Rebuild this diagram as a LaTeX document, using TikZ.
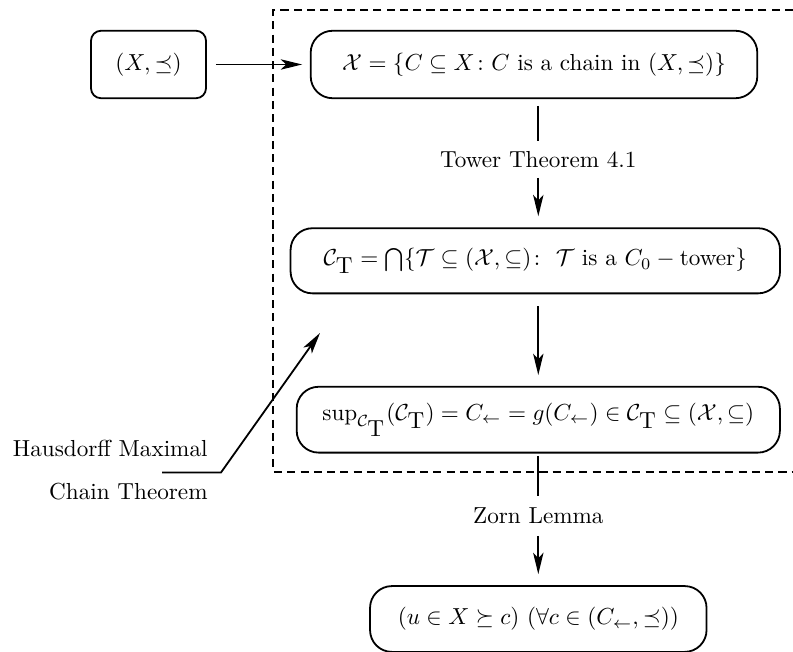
\documentclass[tikz,border=0pt]{standalone}
\usepackage{amsmath,amssymb}
\usetikzlibrary{arrows.meta}
\newcommand{\myCT}{\mathcal{C}_{\textstyle\mathrm{T}}}
\begin{document}
\begin{tikzpicture}[x=0.44444pt,y=-0.44444pt,
  line width=0.8pt,
  every node/.append style={scale=1.03},
  arr/.style={-{Stealth[length=9.5pt,width=4.6pt,inset=2.4pt]}},
  smallbox/.style={draw,rounded corners=4.4pt,inner sep=0pt,minimum width=49.6pt,minimum height=29.1pt},
  bigbox/.style={draw,rounded corners=9.7pt,inner sep=0pt,minimum height=28.4pt},
  elabel/.style={inner sep=0pt},
  dashbox/.style={dash pattern=on 3.6pt off 2.3pt}]
\useasboundingbox (0,0) rectangle (793,652);
\node[smallbox] (A) at (148.5,64.5) {$(X,\preceq)$};
\node[bigbox,minimum width=192.7pt,minimum height=29.1pt] (B) at (534,64.5)
  {$\mathcal{X}=\{C\subseteq X\colon C\text{ is a chain in }(X,\preceq)\}$};
\node[bigbox,minimum width=211.2pt,minimum height=28.1pt] (C) at (535.3,260.8)
  {$\myCT=\bigcap\{\mathcal{T}\subseteq(\mathcal{X},\subseteq)\colon\ \mathcal{T}\text{ is a }C_0-\text{tower}\}$};
\node[bigbox,minimum width=208.5pt,minimum height=28.4pt] (D) at (538.3,419.7)
  {$\sup_{\myCT}(\myCT)=C_{\leftarrow}=g(C_{\leftarrow})\in\myCT\subseteq(\mathcal{X},\subseteq)$};
\node[bigbox,minimum width=145.2pt,minimum height=28.4pt] (E) at (538.3,619)
  {$(u\in X\succeq c)\ (\forall c\in(C_{\leftarrow},\preceq))$};
\node[elabel,minimum height=15.1pt] (t1) at (538.3,159.5) {Tower Theorem 4.1};
\node[elabel,minimum height=16.4pt] (t2) at (538.3,516) {Zorn Lemma};
\node[anchor=east,inner sep=0pt] (h1) at (208.5,448) {Hausdorff Maximal};
\node[anchor=east,inner sep=0pt] (h2) at (208.5,491.5) {Chain Theorem};
\coordinate (hs) at (162,472.5);
\coordinate (hb) at (221,472.5);
\coordinate (ht) at (320,333);
% dashed frame
\draw[dashbox] (793,10) -- (273.3,10) -- (273.3,472) -- (793,472);
% connectors
\draw[arr,shorten <=4pt,shorten >=3.4pt] (A.east) -- (B.west);
\draw[shorten <=3pt] (t1.north |- B.south) -- (t1.north);
\draw[arr,shorten >=4.9pt] (t1.south) -- (t1.south |- C.north);
\draw[arr,shorten <=5.3pt,shorten >=4.8pt] (t1.south |- C.south) -- (t1.south |- D.north);
\draw[shorten <=1pt] (t2.north |- D.south) -- (t2.north);
\draw[arr,shorten >=4.9pt] (t2.south) -- (t2.south |- E.north);
\draw[arr] (hs) -- (hb) -- (ht);
\end{tikzpicture}
\end{document}
